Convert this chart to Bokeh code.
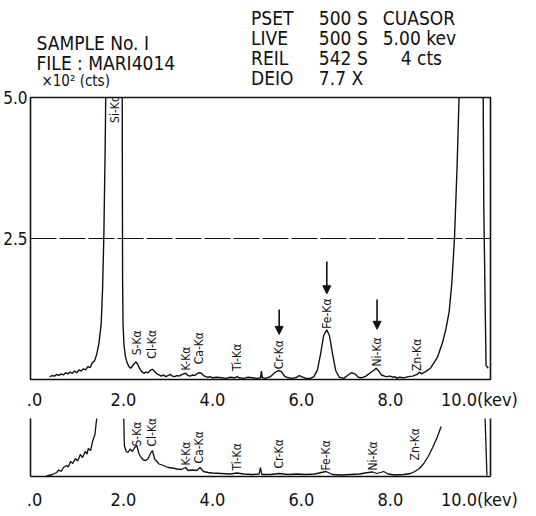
from math import pi
from bokeh.plotting import figure
from bokeh.layouts import column
from bokeh.models import Range1d, FixedTicker, LinearAxis, Span, Arrow, NormalHead
from bokeh.core.properties import value
from bokeh.embed import file_html
from bokeh.resources import INLINE

FONT = "DejaVu Sans Condensed, Liberation Sans, sans-serif"
INK = "#111111"

# ---------------- header texts ----------------
hdr_left = ["SAMPLE No. I", "FILE : MARI4014"]
hdr_unit = ["\u00d710\u00b2 (cts)"]
hdr_keys = ["PSET", "LIVE", "REIL", "DEIO"]
hdr_vals = ["500 S", "500 S", "542 S", "7.7 X"]
hdr_extra = ["CUASOR", "5.00 kev", "4 cts"]

# ---------------- axes ----------------
x_ticks = [0, 2, 4, 6, 8, 10]
x_tick_labels = [".0", "2.0", "4.0", "6.0", "8.0", "10.0(kev)"]
y_ticks = [2.5, 5.0]
y_tick_labels = ["2.5", "5.0"]

# ---------------- upper spectrum (keV, x10^2 cts) ----------------
top_kev = [0.34, 0.40, 0.45, 0.50, 0.55, 0.60, 0.65, 0.70, 0.75, 0.80, 0.85, 0.90, 0.95,
           1.00, 1.05, 1.10, 1.15, 1.20, 1.25, 1.30, 1.35, 1.40, 1.45, 1.50, 1.53, 1.56,
           1.59, 1.62, 1.70, 1.85, 1.95, 1.97, 1.98, 1.99, 2.01, 2.04, 2.08, 2.12, 2.16,
           2.20, 2.24, 2.28, 2.32, 2.36, 2.41, 2.46, 2.50, 2.55, 2.60, 2.65, 2.70, 2.75,
           2.80, 2.85, 2.90, 2.95, 3.00, 3.05, 3.10, 3.15, 3.20, 3.25, 3.30, 3.35, 3.40,
           3.45, 3.50, 3.55, 3.60, 3.65, 3.70, 3.75, 3.80, 3.85, 3.90, 3.95, 4.00, 4.10,
           4.20, 4.30, 4.40, 4.50, 4.55, 4.60, 4.70, 4.80, 4.90, 5.00, 5.08, 5.10, 5.12,
           5.20, 5.30, 5.40, 5.48, 5.55, 5.62, 5.70, 5.80, 5.90, 5.95, 6.00, 6.10, 6.20,
           6.28, 6.36, 6.43, 6.50, 6.57, 6.63, 6.70, 6.77, 6.85, 6.95, 7.05, 7.12, 7.20,
           7.28, 7.35, 7.45, 7.55, 7.62, 7.68, 7.74, 7.80, 7.90, 8.00, 8.05, 8.10, 8.15,
           8.20, 8.30, 8.40, 8.50, 8.60, 8.65, 8.70, 8.79, 8.90, 9.00, 9.06, 9.17, 9.25,
           9.32, 9.38, 9.44, 9.50, 9.55, 9.65, 9.90, 10.05, 10.10, 10.15, 10.20]
top_cts = [0.05, 0.07, 0.06, 0.09, 0.07, 0.10, 0.08, 0.12, 0.10, 0.13, 0.11, 0.15, 0.12,
           0.17, 0.15, 0.19, 0.17, 0.23, 0.21, 0.30, 0.33, 0.45, 0.65, 1.00, 1.60, 2.60,
           4.20, 6.50, 40.0, 60.0, 30.0, 5.50, 1.80, 1.00, 0.62, 0.42, 0.30, 0.23, 0.20,
           0.24, 0.28, 0.31, 0.27, 0.20, 0.14, 0.11, 0.13, 0.12, 0.16, 0.18, 0.14, 0.10,
           0.08, 0.06, 0.08, 0.05, 0.07, 0.09, 0.06, 0.05, 0.07, 0.06, 0.08, 0.10, 0.11,
           0.07, 0.06, 0.08, 0.07, 0.10, 0.12, 0.11, 0.07, 0.05, 0.04, 0.05, 0.03, 0.04,
           0.03, 0.02, 0.04, 0.03, 0.05, 0.03, 0.02, 0.04, 0.03, 0.02, 0.03, 0.15, 0.03,
           0.02, 0.05, 0.12, 0.16, 0.14, 0.06, 0.03, 0.02, 0.04, 0.07, 0.05, 0.02, 0.02,
           0.05, 0.17, 0.45, 0.78, 0.88, 0.78, 0.45, 0.16, 0.04, 0.02, 0.08, 0.12, 0.10,
           0.04, 0.03, 0.06, 0.12, 0.16, 0.20, 0.15, 0.08, 0.05, 0.06, 0.04, 0.05, 0.02,
           0.04, 0.03, 0.05, 0.06, 0.09, 0.13, 0.10, 0.14, 0.20, 0.32, 0.40, 0.65, 0.90,
           1.20, 1.70, 2.50, 3.80, 5.20, 12.0, 20.0, 10.0, 3.00, 0.25, 0.20]

# ---------------- lower spectrum (expanded scale) ----------------
nan = float("nan")
bot_kev = [0.27, 0.40, 0.50, 0.54, 0.60, 0.65, 0.72, 0.76, 0.81, 0.86, 0.92, 0.97, 1.03,
           1.08, 1.14, 1.18, 1.21, 1.26, 1.30, 1.36, 1.45, 1.90, 2.00, 2.02, 2.06, 2.10,
           2.15, 2.20, 2.25, 2.30, 2.35, 2.40, 2.45, 2.50, 2.55, 2.60, 2.65, 2.70, 2.75,
           2.80, 2.90, 3.00, 3.10, 3.20, 3.30, 3.40, 3.45, 3.55, 3.65, 3.72, 3.80, 3.90,
           4.00, 4.20, 4.40, 4.55, 4.70, 4.90, 5.05, 5.08, 5.11, 5.30, 5.50, 5.70, 5.90,
           6.10, 6.30, 6.55, 6.70, 6.90, 7.10, 7.30, 7.50, 7.60, 7.70, 7.85, 7.95, 8.10,
           8.30, 8.45, 8.55, 8.65, 8.75, 8.85, 8.95, 9.05, 9.10, 9.14, 9.60, 10.12, 10.17]
bot_cts = [0.01, 0.04, 0.08, 0.13, 0.10, 0.18, 0.22, 0.19, 0.30, 0.26, 0.36, 0.31, 0.44,
           0.38, 0.50, 0.45, 0.56, 0.52, 0.68, 0.85, 1.60, 3.00, 1.40, 0.62, 0.50, 0.48,
           0.55, 0.50, 0.58, 0.62, 0.45, 0.38, 0.33, 0.32, 0.35, 0.45, 0.52, 0.35, 0.30,
           0.25, 0.22, 0.18, 0.17, 0.15, 0.14, 0.18, 0.12, 0.13, 0.12, 0.18, 0.10, 0.08,
           0.07, 0.06, 0.05, 0.07, 0.05, 0.04, 0.05, 0.18, 0.04, 0.04, 0.06, 0.04, 0.05,
           0.04, 0.05, 0.10, 0.04, 0.03, 0.04, 0.05, 0.08, 0.09, 0.06, 0.10, 0.05, 0.03,
           0.04, 0.06, 0.10, 0.16, 0.26, 0.40, 0.58, 0.78, 0.90, 1.00, nan, 1.40, 0.02]

# ---------------- peak labels ----------------
top_lab_text = ["Si-K\u03b1", "S-K\u03b1", "Cl-K\u03b1", "K-K\u03b1", "Ca-K\u03b1", "Ti-K\u03b1",
                "Cr-K\u03b1", "Fe-K\u03b1", "Ni-K\u03b1", "Zn-K\u03b1"]
top_lab_kev = [1.80, 2.30, 2.65, 3.40, 3.70, 4.55, 5.50, 6.57, 7.70, 8.60]
top_lab_base = [4.55, 0.43, 0.37, 0.16, 0.27, 0.15, 0.18, 0.90, 0.23, 0.15]

bot_lab_text = ["S-K\u03b1", "Cl-K\u03b1", "K-K\u03b1", "Ca-K\u03b1", "Ti-K\u03b1",
                "Cr-K\u03b1", "Fe-K\u03b1", "Ni-K\u03b1", "Zn-K\u03b1"]
bot_lab_kev = [2.30, 2.65, 3.40, 3.70, 4.55, 5.50, 6.55, 7.60, 8.55]
bot_lab_base = [0.60, 0.60, 0.22, 0.26, 0.12, 0.16, 0.12, 0.12, 0.32]

arrow_kev = [5.50, 6.57, 7.70]
arrow_from = [1.24, 2.09, 1.42]
arrow_to = [0.80, 1.52, 0.89]

X_RANGE = (-0.09, 10.25)
LEFT, RIGHT = 29, 46   # frame borders shared by all three stacked figures

# ================= header figure (frame aligned with panels; data units = page px) =====
h = figure(width=536, height=88, x_range=Range1d(LEFT, 536 - RIGHT), y_range=Range1d(88, 0),
           output_backend="svg", toolbar_location=None, x_axis_type=None, y_axis_type=None,
           min_border_left=LEFT, min_border_right=RIGHT, min_border_top=0, min_border_bottom=0)
h.outline_line_color = None
h.text(x=[35, 35], y=[42, 62], text=hdr_left, text_font=value(FONT), text_font_size="19px",
       text_baseline="middle", text_color=INK)
h.text(x=[40], y=[80], text=hdr_unit, text_font=value(FONT), text_font_size="15px",
       text_baseline="middle", text_color=INK)
h.text(x=[250] * 4, y=[17, 37, 57, 77], text=hdr_keys, text_font=value(FONT),
       text_font_size="19px", text_baseline="middle", text_color=INK)
h.text(x=[318] * 4, y=[17, 37, 57, 77], text=hdr_vals, text_font=value(FONT),
       text_font_size="19px", text_baseline="middle", text_color=INK)
h.text(x=[382, 382, 400], y=[17, 37, 57], text=hdr_extra, text_font=value(FONT),
       text_font_size="19px", text_baseline="middle", text_color=INK)


def style_x(p, standoff):
    ax = p.xaxis[0]
    ax.ticker = FixedTicker(ticks=x_ticks)
    ax.major_label_overrides = {t: l for t, l in zip(x_ticks, x_tick_labels)}
    ax.major_tick_out = 0
    ax.major_tick_in = 0
    ax.minor_tick_out = 0
    ax.minor_tick_in = 0
    ax.major_label_standoff = standoff
    ax.major_label_text_font = FONT
    ax.major_label_text_font_size = "18px"
    ax.major_label_text_color = INK


# ================= upper panel =================
top = figure(width=536, height=324, x_range=Range1d(*X_RANGE), y_range=Range1d(0, 5.0),
             output_backend="svg", toolbar_location=None,
             min_border_left=LEFT, min_border_right=RIGHT, min_border_top=9, min_border_bottom=32)
top.grid.visible = False
top.outline_line_color = INK
top.outline_line_width = 1.6
style_x(top, 9)
top.xaxis.axis_line_color = None
ya = top.yaxis[0]
ya.ticker = FixedTicker(ticks=y_ticks)
ya.major_label_overrides = {t: l for t, l in zip(y_ticks, y_tick_labels)}
ya.major_tick_out = 0
ya.major_tick_in = 0
ya.minor_tick_out = 0
ya.minor_tick_in = 0
ya.axis_line_color = None
ya.major_label_standoff = 3
ya.major_label_text_font = FONT
ya.major_label_text_font_size = "17px"
ya.major_label_text_color = INK

top.add_layout(Span(location=2.5, dimension="width", line_color=INK, line_width=1.1,
                    line_dash="26 3"))
top.line(top_kev, top_cts, line_color=INK, line_width=1.4)
top.text(x=top_lab_kev, y=top_lab_base, text=top_lab_text, angle=pi / 2,
         text_align="left", text_baseline="middle", text_font=value(FONT),
         text_font_size="12px", text_color=INK)
for xk, y0, y1 in zip(arrow_kev, arrow_from, arrow_to):
    top.add_layout(Arrow(end=NormalHead(size=8, fill_color=INK, line_color=INK),
                         x_start=xk, y_start=y0, x_end=xk, y_end=y1,
                         line_color=INK, line_width=1.6))

# ================= lower panel =================
bot = figure(width=536, height=104, x_range=Range1d(*X_RANGE), y_range=Range1d(0, 1.16),
             output_backend="svg", toolbar_location=None,
             min_border_left=LEFT, min_border_right=RIGHT, min_border_top=6, min_border_bottom=40)
bot.grid.visible = False
bot.outline_line_color = None
style_x(bot, 12)
bot.xaxis.axis_line_color = INK
bot.xaxis.axis_line_width = 1.6
yb = bot.yaxis[0]
yb.ticker = FixedTicker(ticks=[])
yb.major_label_text_font_size = "0px"
yb.major_tick_out = 0
yb.minor_tick_out = 0
yb.axis_line_color = INK
yb.axis_line_width = 1.6
rb = LinearAxis(ticker=FixedTicker(ticks=[]), major_label_text_font_size="0px",
                major_tick_out=0, minor_tick_out=0, axis_line_color=INK, axis_line_width=1.6)
bot.add_layout(rb, "right")
bot.line(bot_kev, bot_cts, line_color=INK, line_width=1.3)
bot.text(x=bot_lab_kev, y=bot_lab_base, text=bot_lab_text, angle=pi / 2,
         text_align="left", text_baseline="middle", text_font=value(FONT),
         text_font_size="12px", text_color=INK)

layout = column(h, top, bot, spacing=0)
open("out.html", "w").write(file_html(layout, INLINE))
